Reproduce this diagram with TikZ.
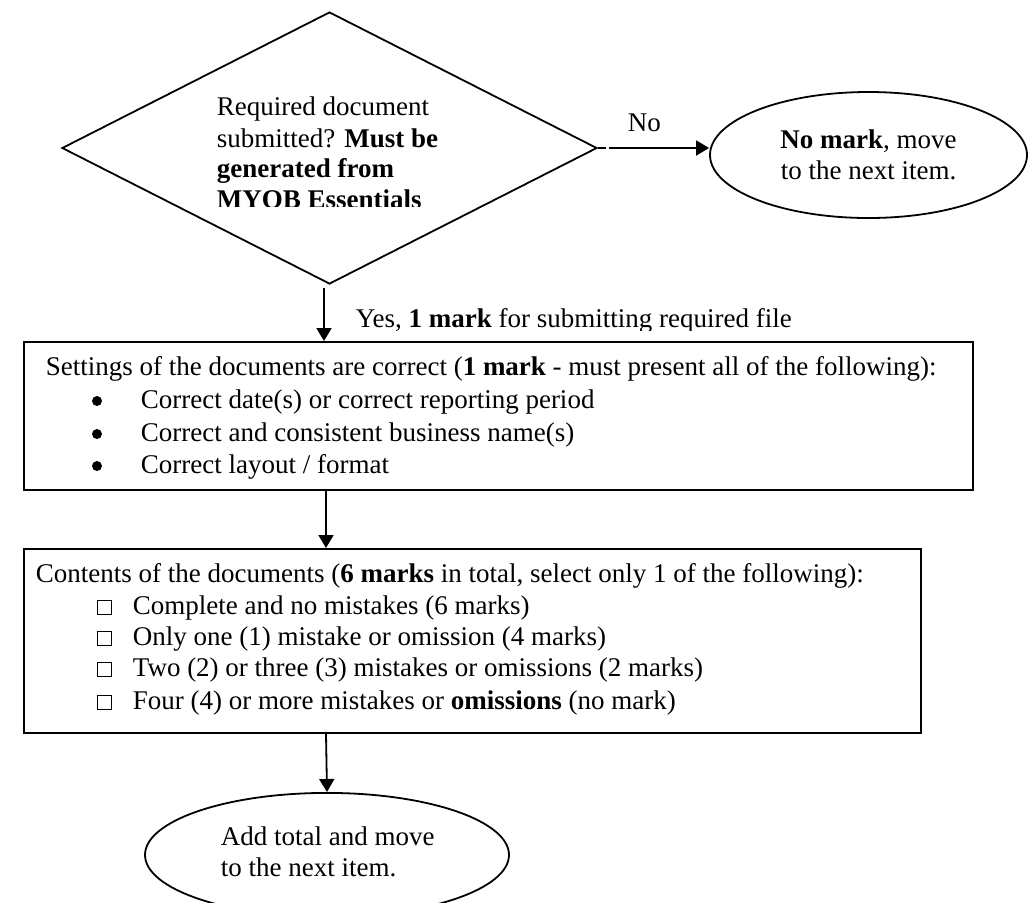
\documentclass[tikz,border=0pt]{standalone}
\usepackage{fontspec}
\setmainfont{Liberation Serif}
\usetikzlibrary{shapes.geometric,arrows.meta,calc}
\begin{document}
\begin{tikzpicture}[x=0.5pt,y=-0.5pt,
  line width=0.9pt,
  txt/.style={inner sep=0pt,anchor=base west,font=\fontsize{13.5}{15.25}\selectfont},
  dot/.style={circle,fill,inner sep=0pt,minimum size=5pt},
  arr/.style={-{Triangle[length=6.5pt,width=7.5pt]}},
  boxshape/.style={draw,rectangle,inner sep=0pt,anchor=north west},
  ovalshape/.style={draw,ellipse,inner sep=0pt,align=center,font=\fontsize{13.5}{15.25}\selectfont}]
\useasboundingbox (0,0) rectangle (1028,902);
\newcommand{\chkbox}{{\fboxsep=0pt\fboxrule=0.6pt\fbox{\rule{0pt}{6.5pt}\rule{6.5pt}{0pt}}}}
% decision
\node[draw,diamond,inner sep=0pt,minimum width=267.5pt,minimum height=136pt] (dia) at (329.5,148) {};
\begin{scope}
\clip (150,80) rectangle (560,206);
\node[txt] (d1) at (216,115) {Required document};
\node[txt] (d2) at (216,147) {submitted? \textbf{Must be}};
\node[txt] (d3) at (216,177) {\textbf{generated from}};
\node[txt] (d4) at (216,208) {\textbf{MYOB Essentials}};
\end{scope}
% no branch
\node[ovalshape,minimum width=158.5pt,minimum height=63pt] (ell1) at (868.5,155) {\textbf{No mark}, move\\to the next item.};
\draw[arr,dash pattern=on 4pt off 1.5pt on 200pt off 0pt] (dia.east) -- (dia.east -| ell1.west);
\node[txt] (nolab) at (627,131) {No};
% box 1
\node[boxshape,minimum width=474.5pt,minimum height=74pt] (box1) at (23,341) {};
\coordinate (ys) at (324,288);
\draw[arr] (ys) -- (ys |- box1.north);
\begin{scope}
\clip (340,280) rectangle (1000,330);
\node[txt] (yeslab) at (355,327) {Yes, \textbf{1 mark} for submitting required file};
\end{scope}
\node[txt] (s0) at (45,375) {Settings of the documents are correct (\textbf{1 mark} - must present all of the following):};
\node[dot] (b1) at (97,401) {};
\node[txt] (s1) at (140,408) {Correct date(s) or correct reporting period};
\node[dot] (b2) at (97,434) {};
\node[txt] (s2) at (140,441) {Correct and consistent business name(s)};
\node[dot] (b3) at (97,466) {};
\node[txt] (s3) at (140,473) {Correct layout / format};
% box 2
\node[boxshape,minimum width=448.5pt,minimum height=92pt] (box2) at (23,548) {};
\coordinate (ys2) at (326,0);
\draw[arr] (ys2 |- box1.south) -- (ys2 |- box2.north);
\node[txt] (c0) at (35,582) {Contents of the documents (\textbf{6 marks} in total, select only 1 of the following):};
\node[txt] (k1) at (96,614) {\chkbox};
\node[txt] (c1) at (132,614) {Complete and no mistakes (6 marks)};
\node[txt] (k2) at (96,645) {\chkbox};
\node[txt] (c2) at (132,645) {Only one (1) mistake or omission (4 marks)};
\node[txt] (k3) at (96,676) {\chkbox};
\node[txt] (c3) at (132,676) {Two (2) or three (3) mistakes or omissions (2 marks)};
\node[txt] (k4) at (96,709) {\chkbox};
\node[txt] (c4) at (132,709) {Four (4) or more mistakes or \textbf{omissions} (no mark)};
% end
\node[draw,ellipse,inner sep=0pt,minimum width=182pt,minimum height=62pt,anchor=north] (ell2) at (327,792) {};
\node[txt] (e1) at (220,845) {Add total and move};
\node[txt] (e2) at (220,876) {to the next item.};
\draw[arr] (ys2 |- box2.south) -- (ell2.north);
\end{tikzpicture}
\end{document}
